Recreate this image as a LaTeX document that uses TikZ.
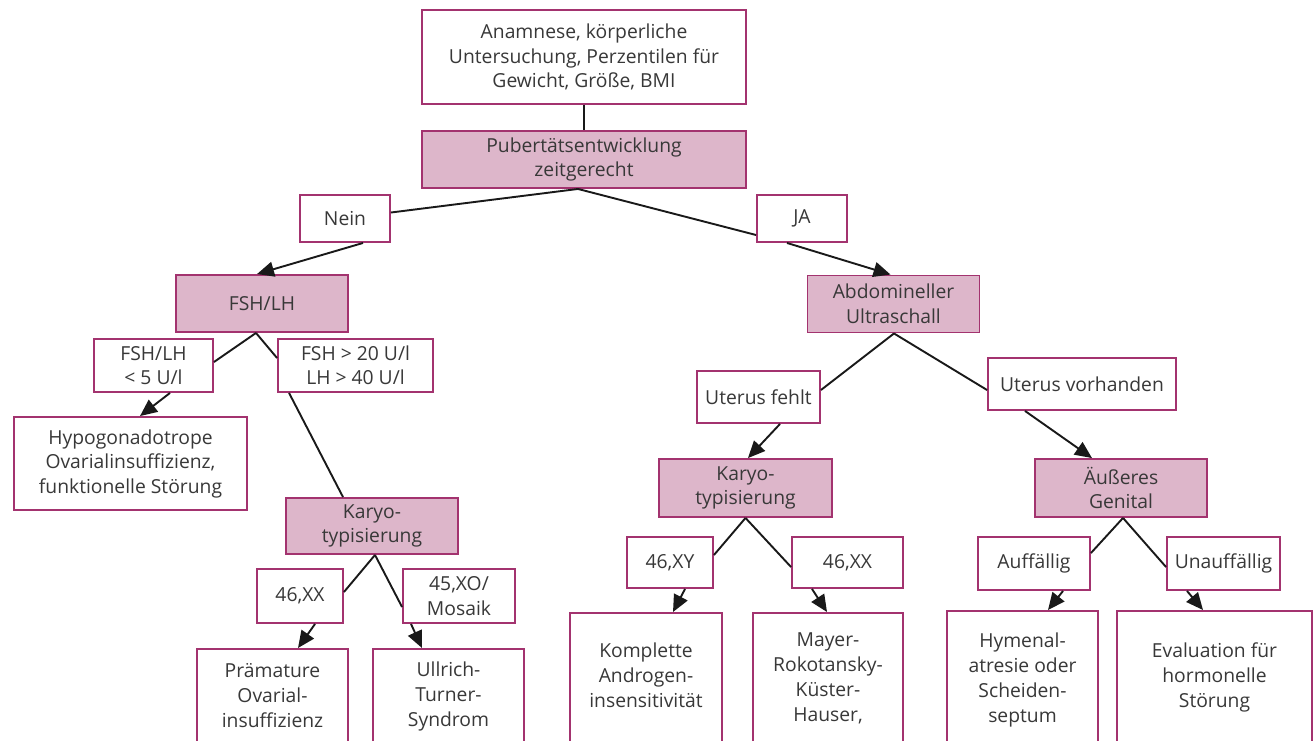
\documentclass[tikz,border=0pt]{standalone}
\usepackage{fontspec}
\setmainfont{Open Sans}
\usetikzlibrary{arrows.meta,calc}
\definecolor{bord}{HTML}{A3336F}
\definecolor{pinkfill}{HTML}{DDB6CA}
\definecolor{txtc}{HTML}{383838}
\tikzset{
  box/.style={draw=bord, line width=1.9pt, fill=white, inner sep=0pt, align=center,
    text=txtc, font=\fontsize{19.3}{24.5}\selectfont},
  dbox/.style={box, fill=pinkfill},
  leaf/.style={box, anchor=north, minimum height=200pt},
  ltext/.style={inner sep=0pt, align=center, text=txtc, font=\fontsize{19.3}{25}\selectfont},
  con/.style={line width=1.9pt, draw=black!90},
  arr/.style={con, -{Triangle[length=17pt,width=15pt]}}
}
\begin{document}
\begin{tikzpicture}[x=1pt,y=-1pt]
\path[use as bounding box, clip] (0,0) rectangle (1313,740);
\fill[white] (0,0) rectangle (1313,740);
% decision boxes
\node[box, minimum width=324pt, minimum height=94pt] (top) at (584,57) {Anamnese, körperliche\\Untersuchung, Perzentilen für\\Gewicht, Größe, BMI};
\node[dbox, minimum width=324pt, minimum height=57pt] (pub) at (584,159.5) {Pubertätsentwicklung\\zeitgerecht};
\node[box, minimum width=90pt, minimum height=47pt] (nein) at (345,218.5) {Nein};
\node[box, minimum width=90pt, minimum height=47pt] (ja) at (802,218.5) {JA};
\node[dbox, minimum width=172pt, minimum height=57pt] (fsh) at (262,303.5) {FSH/LH};
\node[dbox, minimum width=172pt, minimum height=57pt] (abd) at (893.5,304) {Abdomineller\\Ultraschall};
\node[box, minimum width=119pt, minimum height=53pt] (low) at (153.5,365.5) {FSH/LH\\< 5 U/l};
\node[box, minimum width=155pt, minimum height=53pt] (high) at (355.5,365.5) {FSH > 20 U/l\\LH > 40 U/l};
\node[box, minimum width=123pt, minimum height=52pt] (fehlt) at (758.5,397) {Uterus fehlt};
\node[box, minimum width=188pt, minimum height=52pt] (vorh) at (1082,384) {Uterus vorhanden};
\node[box, minimum width=233pt, minimum height=93pt] (hypo) at (130.5,463.5) {Hypogonadotrope\\Ovarialinsuffizienz,\\funktionelle Störung};
\node[dbox, minimum width=172pt, minimum height=56pt] (karA) at (372,526) {Karyo-\\typisierung};
\node[dbox, minimum width=173pt, minimum height=58pt] (karB) at (745.5,488) {Karyo-\\typisierung};
\node[dbox, minimum width=172pt, minimum height=58pt] (aeus) at (1121,488) {Äußeres\\Genital};
\node[box, minimum width=86pt, minimum height=54pt] (xxA) at (300,596) {46,XX};
\node[box, minimum width=112pt, minimum height=54pt] (xo) at (459,596) {45,XO/\\Mosaik};
\node[box, minimum width=86pt, minimum height=51pt] (xy) at (670,562.5) {46,XY};
\node[box, minimum width=111pt, minimum height=51pt] (xxB) at (847.5,562.5) {46,XX};
\node[box, minimum width=112pt, minimum height=53pt] (auff) at (1034,563.5) {Auffällig};
\node[box, minimum width=113pt, minimum height=53pt] (unauff) at (1223.5,563.5) {Unauffällig};
% leaf boxes (open at the bottom edge)
\node[leaf, minimum width=151pt] (prem) at (272.5,648) {};
\node[leaf, minimum width=151pt] (ull) at (448.5,648) {};
\node[leaf, minimum width=152pt] (kompl) at (646,612) {};
\node[leaf, minimum width=150pt] (mayer) at (828,612) {};
\node[leaf, minimum width=151pt] (hymen) at (1022.5,610) {};
\node[leaf, minimum width=195pt] (eval) at (1214.5,610) {};
\node[ltext] (premT) at (272.5,696) {Prämature\\Ovarial-\\insuffizienz};
\node[ltext] (ullT) at (448.5,696) {Ullrich-\\Turner-\\Syndrom};
\node[ltext] (komplT) at (646,675) {Komplette\\Androgen-\\insensitivität};
\node[ltext] (mayerT) at (828,678) {Mayer-\\Rokotansky-\\Küster-\\Hauser,};
\node[ltext] (hymenT) at (1022.5,680) {Hymenal-\\atresie oder\\Scheiden-\\septum};
\node[ltext] (evalT) at (1214.5,677) {Evaluation für\\hormonelle\\Störung};
% connectors
\draw[con] (top.south) -- (pub.north);
\draw[con] ($(pub.south)+(-6,0)$) -- ($(nein.east)+(0,-6)$);
\draw[arr] ($(nein.south)+(18,0)$) -- ($(fsh.north)+(-5,0)$);
\draw[con] ($(pub.south)+(-6,0)$) -- ($(ja.west)+(0,16.5)$);
\draw[arr] ($(ja.south)+(-15,0)$) -- ($(abd.north)+(-3,0)$);
\draw[con] ($(fsh.south)+(-6,0)$) -- ($(low.east)+(0,-3.5)$);
\draw[arr] ($(low.south)+(16.5,0)$) -- ($(hypo.north)+(9.5,0)$);
\draw[con] ($(fsh.south)+(-6,0)$) -- ($(high.west)+(0,-7.5)$);
\draw[con] ($(high.south west)+(12,0)$) -- ($(karA.north)+(-29,0)$);
\draw[con] ($(abd.south)+(0.5,0)$) -- ($(fehlt.east)+(0,-7)$);
\draw[arr] ($(fehlt.south)+(21.5,0)$) -- ($(karB.north)+(2.5,0)$);
\draw[con] ($(abd.south)+(0.5,0)$) -- ($(vorh.west)+(0,6)$);
\draw[arr] ($(vorh.south)+(-57,0)$) -- ($(aeus.north)+(-29,0)$);
\draw[con] ($(karA.south)+(3,0)$) -- ($(xxA.east)+(0,-4)$);
\draw[arr] ($(xxA.south)+(15,0)$) -- ($(prem.north)+(25.5,0)$);
\draw[con] ($(karA.south)+(3,0)$) -- ($(xo.west)+(0,11)$);
\draw[arr] ($(xo.south)+(-48,0)$) -- ($(ull.north)+(-26.5,0)$);
\draw[con] (karB.south) -- ($(xy.east)+(0,-7.5)$);
\draw[arr] ($(xy.south)+(15,0)$) -- ($(kompl.north)+(27,0)$);
\draw[con] (karB.south) -- ($(xxB.west)+(0,4.5)$);
\draw[arr] ($(xxB.south)+(-35.5,0)$) -- ($(mayer.north)+(-1,0)$);
\draw[con] ($(aeus.south)+(2,0)$) -- ($(auff.east)+(0,-10.5)$);
\draw[arr] ($(auff.south)+(29,0)$) -- ($(hymen.north)+(25.5,0)$);
\draw[con] ($(aeus.south)+(2,0)$) -- ($(unauff.west)+(0,3.5)$);
\draw[arr] ($(unauff.south)+(-36.5,0)$) -- ($(eval.north)+(-11.5,0)$);
\end{tikzpicture}
\end{document}
